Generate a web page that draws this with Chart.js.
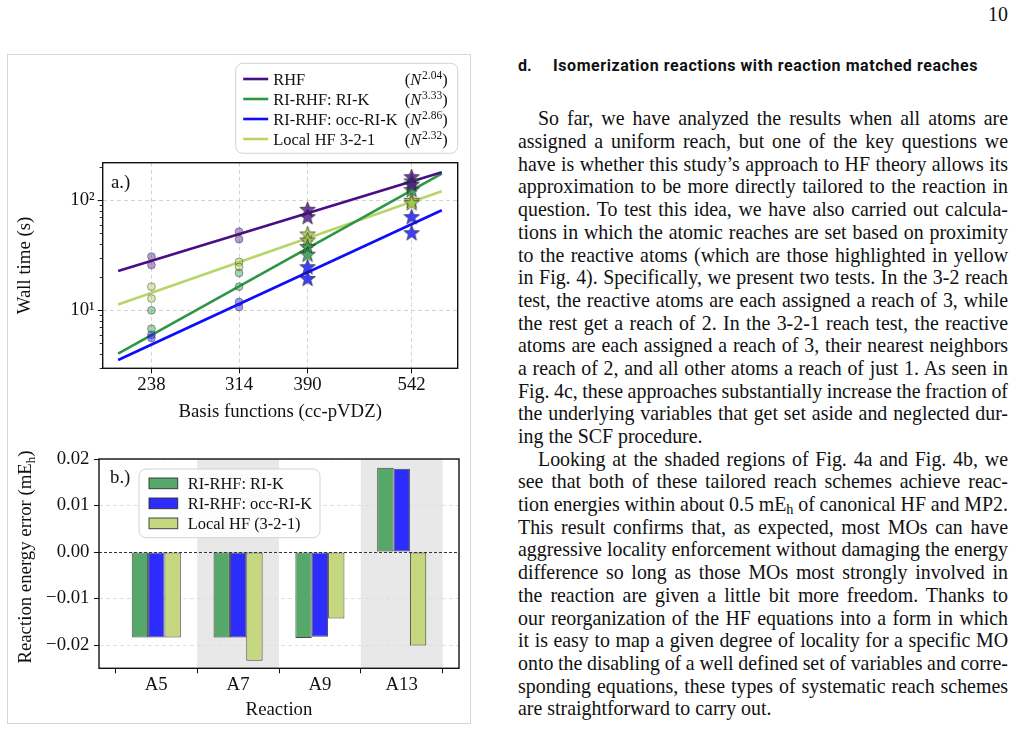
<!DOCTYPE html>
<html><head><meta charset="utf-8">
<script src="https://cdn.jsdelivr.net/npm/chart.js@4.4.0/dist/chart.umd.min.js"></script>
<style>
html,body{margin:0;padding:0;background:#fff;}
#page{position:relative;width:1016px;height:730px;overflow:hidden;font-family:'Liberation Serif','Times New Roman',serif;color:#111;}
#frame{position:absolute;left:7px;top:54px;width:462px;height:668px;border:1px solid #d6d6d6;}
canvas{position:absolute;}
#pn{position:absolute;left:908px;width:100px;text-align:right;top:3px;font-size:19.9px;line-height:22.4px;}
#hd{position:absolute;left:518px;top:56px;font-family:Roboto,'Liberation Sans',sans-serif;font-weight:bold;font-size:16px;line-height:20px;white-space:nowrap;}
#hd .t{position:absolute;left:35px;top:0;}
#txt{position:absolute;left:518px;top:107.4px;width:490px;font-size:19.9px;line-height:22.7px;}
.l{height:22.7px;white-space:nowrap;}
.i{text-indent:20px;}
sub{font-size:0.72em;vertical-align:-0.22em;line-height:0;}
</style>
</head>
<body>
<div id="page">
  <div id="frame"></div>
  <canvas id="c1" width="461" height="372" style="left:8px;top:55px;"></canvas>
  <canvas id="c2" width="461" height="292" style="left:8px;top:430px;"></canvas>
  <div id="pn">10</div>
  <div id="hd"><span>d.</span><span class="t" id="hdt">Isomerization reactions with reaction matched reaches</span></div>
  <div id="txt">
    <div class="l i">So far, we have analyzed the results when all atoms are</div>
    <div class="l">assigned a uniform reach, but one of the key questions we</div>
    <div class="l">have is whether this study’s approach to HF theory allows its</div>
    <div class="l">approximation to be more directly tailored to the reaction in</div>
    <div class="l">question. To test this idea, we have also carried out calcula-</div>
    <div class="l">tions in which the atomic reaches are set based on proximity</div>
    <div class="l">to the reactive atoms (which are those highlighted in yellow</div>
    <div class="l">in Fig. 4). Specifically, we present two tests. In the 3-2 reach</div>
    <div class="l">test, the reactive atoms are each assigned a reach of 3, while</div>
    <div class="l">the rest get a reach of 2. In the 3-2-1 reach test, the reactive</div>
    <div class="l">atoms are each assigned a reach of 3, their nearest neighbors</div>
    <div class="l">a reach of 2, and all other atoms a reach of just 1. As seen in</div>
    <div class="l">Fig. 4c, these approaches substantially increase the fraction of</div>
    <div class="l">the underlying variables that get set aside and neglected dur-</div>
    <div class="l e">ing the SCF procedure.</div>
    <div class="l i">Looking at the shaded regions of Fig. 4a and Fig. 4b, we</div>
    <div class="l">see that both of these tailored reach schemes achieve reac-</div>
    <div class="l">tion energies within about 0.5 mE<sub>h</sub> of canonical HF and MP2.</div>
    <div class="l">This result confirms that, as expected, most MOs can have</div>
    <div class="l">aggressive locality enforcement without damaging the energy</div>
    <div class="l">difference so long as those MOs most strongly involved in</div>
    <div class="l">the reaction are given a little bit more freedom. Thanks to</div>
    <div class="l">our reorganization of the HF equations into a form in which</div>
    <div class="l">it is easy to map a given degree of locality for a specific MO</div>
    <div class="l">onto the disabling of a well defined set of variables and corre-</div>
    <div class="l">sponding equations, these types of systematic reach schemes</div>
    <div class="l e">are straightforward to carry out.</div>
  </div>
</div>
<script>
// ---------------- DATA: panel a (wall time vs basis size) ----------------
const basisSizes = [238, 314, 390, 542];
const circleSizeCount = 2;               // first two sizes drawn as circles, rest as stars
const methodLabels = ['RHF', 'RI-RHF: RI-K', 'RI-RHF: occ-RI-K', 'Local HF 3-2-1'];
const scalingExponents = ['2.04', '3.33', '2.86', '2.32'];
// two molecules per basis size, wall time in seconds
const rhfTimes    = [[30.8, 25.8], [51.9, 44.3], [82.8, 71.0], [164, 140]];
const riKTimes    = [[10.0, 6.8], [21.8, 16.4], [38.0, 32.4], [150, 125]];
const occRiKTimes = [[6.0, 5.6], [11.9, 10.7], [24.9, 19.5], [71.0, 50.7]];
const localTimes  = [[16.4, 12.8], [27.5, 24.8], [49.4, 43.6], [100, 95]];
// fitted power-law lines, evaluated at the two ends of the fit range
const fitRange = [214.2, 596.2];
const rhfFit    = [22.8, 179.8];
const riKFit    = [4.04, 175];
const occRiKFit = [3.53, 81.1];
const localFit  = [11.3, 120.7];
const wallTicks = [10, 100];
const wallTickLabels = ['10¹', '10²'];
const wallMinorTicks = [3, 4, 5, 6, 7, 8, 9, 20, 30, 40, 50, 60, 70, 80, 90, 200];

// ---------------- DATA: panel b (reaction energy errors) ----------------
const reactions = ['A5', 'A7', 'A9', 'A13'];
const barLabels = ['RI-RHF: RI-K', 'RI-RHF: occ-RI-K', 'Local HF (3-2-1)'];
const riKErrors     = [-0.0184, -0.0184, -0.0185, 0.0181];
const occRiKErrors  = [-0.0184, -0.0184, -0.0182, 0.0179];
const local321Errors= [-0.0184, -0.0234, -0.0143, -0.0201];
const shadedReactions = ['A7', 'A13'];
const errorTicks = [-0.02, -0.01, 0, 0.01, 0.02];
const errorTickLabels = ['−0.02', '−0.01', '0.00', '0.01', '0.02'];

// ---------------- styling ----------------
const SERIF = "'Liberation Serif','Times New Roman',serif";
const FS = 18.8;     // axis font size
const LFS = 16.4;    // legend font size
const lineColors = ['rgb(72,14,136)', 'rgb(44,150,70)', 'rgb(12,12,255)', 'rgb(184,214,104)'];
const rgbs = [[80,20,145],[44,150,70],[20,20,255],[165,200,70]];
const rgba = (c, a) => `rgba(${c[0]},${c[1]},${c[2]},${a})`;
const barColors = ['rgb(86,168,106)', 'rgb(44,44,252)', 'rgb(197,216,128)'];

Chart.defaults.font.family = SERIF;
Chart.defaults.color = '#111';

function starCanvas(fill, stroke, R) {
  const pad = 2, s = Math.ceil(2 * R + 2 * pad);
  const c = document.createElement('canvas'); c.width = s; c.height = s;
  const g = c.getContext('2d');
  g.translate(s / 2, s / 2 + R * 0.08);
  g.beginPath();
  for (let k = 0; k < 10; k++) {
    const r = k % 2 ? R * 0.42 : R;
    const a = -Math.PI / 2 + k * Math.PI / 5;
    g.lineTo(r * Math.cos(a), r * Math.sin(a));
  }
  g.closePath(); g.fillStyle = fill; g.fill();
  g.lineWidth = 0.8; g.strokeStyle = stroke; g.stroke();
  return c;
}

const frameBox = {
  id: 'frameBox',
  afterDraw(chart) {
    const {ctx, chartArea: a} = chart;
    ctx.save(); ctx.strokeStyle = '#111'; ctx.lineWidth = 1.4;
    ctx.strokeRect(a.left, a.top, a.right - a.left, a.bottom - a.top);
    ctx.restore();
  }
};

// ---------------- panel a ----------------
const timeSeries = [rhfTimes, riKTimes, occRiKTimes, localTimes];
const fitSeries = [rhfFit, riKFit, occRiKFit, localFit];
const dsA = [];
fitSeries.forEach((f, m) => {
  dsA.push({type: 'line', label: methodLabels[m], data: fitRange.map((x, i) => ({x, y: f[i]})),
    showLine: true, borderColor: lineColors[m], borderWidth: 2.6, pointRadius: 0, order: 2, isFit: true});
});
timeSeries.forEach((t, m) => {
  const circ = [], stars = [];
  basisSizes.forEach((n, i) => t[i].forEach(v => (i < circleSizeCount ? circ : stars).push({x: n, y: v})));
  dsA.push({type: 'scatter', label: methodLabels[m] + ' pts', data: circ, pointStyle: 'circle', pointRadius: 3.9,
    backgroundColor: rgba(rgbs[m], 0.42), borderColor: 'rgba(50,50,50,0.45)', borderWidth: 1, order: 1});
  dsA.push({type: 'scatter', label: methodLabels[m] + ' stars', data: stars,
    pointStyle: starCanvas(rgba(rgbs[m], 0.82), 'rgba(30,30,30,0.75)', 8.2), pointRadius: 7, order: 0});
});

const legendA = {
  id: 'legendA',
  afterDraw(chart) {
    const {ctx, chartArea: a} = chart;
    const W = 222, H = 90, right = a.right, left = right - W, top = 8.3;
    ctx.save();
    ctx.beginPath(); ctx.roundRect(left, top, W, H, 7);
    ctx.fillStyle = 'rgba(255,255,255,0.85)'; ctx.fill();
    ctx.strokeStyle = '#d2d2d2'; ctx.lineWidth = 1; ctx.stroke();
    const fits = chart.data.datasets.filter(d => d.isFit);
    fits.forEach((d, i) => {
      const y = top + 15.7 + i * 20;
      ctx.strokeStyle = d.borderColor; ctx.lineWidth = 2.6;
      ctx.beginPath(); ctx.moveTo(left + 7.5, y); ctx.lineTo(left + 32.5, y); ctx.stroke();
      ctx.fillStyle = '#111'; ctx.textBaseline = 'alphabetic'; ctx.textAlign = 'left';
      ctx.font = `${LFS}px ${SERIF}`;
      ctx.fillText(d.label, left + 37.6, y + 5.6);
      // exponent label (N^p)
      const exp = scalingExponents[i];
      const f1 = `${LFS}px ${SERIF}`, fI = `italic ${LFS}px ${SERIF}`, fS = `11.5px ${SERIF}`;
      ctx.font = f1; const wo = ctx.measureText('(').width, wc = ctx.measureText(')').width;
      ctx.font = fI; const wn = ctx.measureText('N').width;
      ctx.font = fS; const we = ctx.measureText(exp).width;
      let x = right - 10 - (wo + wn + we + wc + 1);
      ctx.font = f1; ctx.fillText('(', x, y + 5.6); x += wo;
      ctx.font = fI; ctx.fillText('N', x, y + 5.6); x += wn + 1;
      ctx.font = fS; ctx.fillText(exp, x, y - 0.5); x += we;
      ctx.font = f1; ctx.fillText(')', x, y + 5.6);
    });
    ctx.font = `${FS}px ${SERIF}`; ctx.fillStyle = '#111';
    ctx.fillText('a.)', a.left + 8.3, a.top + 25.5);
    // minor log ticks on the y axis
    const ys = chart.scales.y;
    ctx.strokeStyle = '#111'; ctx.lineWidth = 0.9;
    wallMinorTicks.forEach(v => {
      const py = Math.round(ys.getPixelForValue(v)) + 0.5;
      ctx.beginPath(); ctx.moveTo(a.left, py); ctx.lineTo(a.left - 3, py); ctx.stroke();
    });
    ctx.restore();
  }
};

new Chart(document.getElementById('c1'), {
  type: 'scatter',
  data: {datasets: dsA},
  options: {
    responsive: false, animation: false, events: [],
    layout: {padding: {left: 0, right: 11.3, top: 107.7, bottom: 0}},
    plugins: {legend: {display: false}, tooltip: {enabled: false}},
    scales: {
      x: {type: 'logarithmic', min: 204, max: 627,
        afterFit(s) { s.height = 58.7; },
        afterBuildTicks(s) { s.ticks = basisSizes.map(v => ({value: v})); },
        ticks: {callback: v => String(v), font: {size: FS}, color: '#111', padding: 0.7, maxRotation: 0, autoSkip: false},
        grid: {color: '#cfcfcf', lineWidth: 0.9, tickLength: 5, tickColor: '#111', tickWidth: 1},
        border: {display: false, dash: [4, 3]},
        title: {display: true, text: 'Basis functions (cc-pVDZ)', font: {size: FS}, color: '#111', padding: {top: 0, bottom: 4}}
      },
      y: {type: 'logarithmic', min: 2.97, max: 219.6,
        afterFit(s) { s.width = 94.7; },
        afterBuildTicks(s) { s.ticks = wallTicks.map(v => ({value: v})); },
        ticks: {callback: (v, i) => wallTickLabels[i], font: {size: FS}, color: '#111', padding: 3},
        grid: {color: '#cfcfcf', lineWidth: 0.9, tickLength: 5, tickColor: '#111', tickWidth: 1},
        border: {display: false, dash: [4, 3]},
        title: {display: true, text: 'Wall time (s)', font: {size: FS}, color: '#111', padding: {top: 5.7, bottom: 0}}
      }
    }
  },
  plugins: [frameBox, legendA]
});

// ---------------- panel b ----------------
const errSeries = [riKErrors, occRiKErrors, local321Errors];
const dsB = errSeries.map((e, s) => ({
  label: barLabels[s],
  data: e.map((v, i) => ({x: i, y: v})),
  backgroundColor: barColors[s], borderColor: 'rgba(40,40,40,0.85)', borderWidth: 1, borderSkipped: false,
  categoryPercentage: 0.6, barPercentage: 1.0
}));

const shading = {
  id: 'shading',
  beforeDraw(chart) {
    const {ctx, chartArea: a, scales: {x}} = chart;
    ctx.save(); ctx.fillStyle = '#e8e8e8';
    shadedReactions.forEach(r => {
      const i = reactions.indexOf(r);
      const x0 = x.getPixelForValue(i - 0.5), x1 = x.getPixelForValue(i + 0.5);
      ctx.fillRect(x0, a.top, x1 - x0, a.bottom - a.top);
    });
    ctx.restore();
  }
};
const decorB = {
  id: 'decorB',
  afterDatasetsDraw(chart) {
    const {ctx, chartArea: a, scales: {y}} = chart;
    const py = Math.round(y.getPixelForValue(0)) + 0.5;
    ctx.save(); ctx.strokeStyle = '#333'; ctx.lineWidth = 1; ctx.setLineDash([3, 2]);
    ctx.beginPath(); ctx.moveTo(a.left, py); ctx.lineTo(a.right, py); ctx.stroke();
    ctx.restore();
  },
  afterDraw(chart) {
    const {ctx, chartArea: a} = chart;
    ctx.save();
    // legend
    const left = a.left + 40, top = a.top + 10, W = 181, H = 68.7;
    ctx.beginPath(); ctx.roundRect(left, top, W, H, 7);
    ctx.fillStyle = 'rgba(255,255,255,0.85)'; ctx.fill();
    ctx.strokeStyle = '#d2d2d2'; ctx.lineWidth = 1; ctx.stroke();
    chart.data.datasets.forEach((d, i) => {
      const cy = top + 14.3 + i * 20;
      ctx.fillStyle = d.backgroundColor; ctx.fillRect(left + 10, cy - 5.3, 28.7, 10.7);
      ctx.strokeStyle = d.borderColor; ctx.lineWidth = 1; ctx.strokeRect(left + 10, cy - 5.3, 28.7, 10.7);
      ctx.fillStyle = '#111'; ctx.font = `${LFS}px ${SERIF}`; ctx.textBaseline = 'alphabetic';
      ctx.fillText(d.label, left + 48.7, cy + 5.6);
    });
    ctx.font = `${FS}px ${SERIF}`;
    ctx.fillText('b.)', a.left + 11, a.top + 24);
    // y-axis title with subscript
    const main = 'Reaction energy error (mE', sub = 'h', tail = ')';
    const fM = `${FS}px ${SERIF}`, fSub = `13px ${SERIF}`;
    ctx.font = fM; const w1 = ctx.measureText(main).width, w3 = ctx.measureText(tail).width;
    ctx.font = fSub; const w2 = ctx.measureText(sub).width;
    const tot = w1 + w2 + w3;
    ctx.translate(17, 127); ctx.rotate(-Math.PI / 2);
    let x = -tot / 2;
    ctx.font = fM; ctx.fillText(main, x, 6.3); x += w1;
    ctx.font = fSub; ctx.fillText(sub, x, 10); x += w2;
    ctx.font = fM; ctx.fillText(tail, x, 6.3);
    ctx.restore();
  }
};

new Chart(document.getElementById('c2'), {
  type: 'bar',
  data: {datasets: dsB},
  options: {
    responsive: false, animation: false, events: [],
    layout: {padding: {left: 0, right: 10, top: 29, bottom: 0}},
    plugins: {legend: {display: false}, tooltip: {enabled: false}},
    scales: {
      x: {type: 'linear', min: -0.7, max: 3.7, offset: false,
        afterFit(s) { s.height = 53.7; },
        afterBuildTicks(s) { s.ticks = reactions.map((r, i) => ({value: i})); },
        ticks: {callback: (v) => reactions[v], font: {size: FS}, color: '#111', padding: 0.7, maxRotation: 0, autoSkip: false},
        grid: {drawOnChartArea: false, tickLength: 5, tickColor: '#111', tickWidth: 1, color: '#111'},
        border: {display: false},
        title: {display: true, text: 'Reaction', font: {size: FS}, color: '#111', padding: {top: 0, bottom: 0.7}}
      },
      y: {type: 'linear', min: -0.025, max: 0.02,
        afterFit(s) { s.width = 91; },
        afterBuildTicks(s) { s.ticks = errorTicks.map(v => ({value: v})); },
        ticks: {callback: (v, i) => errorTickLabels[i], font: {size: FS}, color: '#111', padding: 4.5},
        grid: {color: c => (c.tick && Math.abs(c.tick.value) < 1e-9) ? 'rgba(0,0,0,0)' : '#dcdcdc', lineWidth: 0.9,
               tickLength: 5, tickColor: '#111', tickWidth: 1},
        border: {display: false, dash: [4, 3]}
      }
    }
  },
  plugins: [shading, decorB, frameBox]
});

// heading width fit
(function () {
  const t = document.getElementById('hdt');
  const w = t.getBoundingClientRect().width, target = 425;
  t.style.letterSpacing = ((target - w) / t.textContent.length) + 'px';
})();
// manual justification of the text column (line breaks as in the reference)
(function () {
  const W = 490;
  document.querySelectorAll('#txt .l').forEach(div => {
    const span = document.createElement('span');
    while (div.firstChild) span.appendChild(div.firstChild);
    div.appendChild(span);
    const indent = div.classList.contains('i') ? 20 : 0;
    const w = span.getBoundingClientRect().width;
    const n = (span.textContent.match(/ /g) || []).length;
    if (!div.classList.contains('e') && n > 0) span.style.wordSpacing = ((W - indent - w) / n) + 'px';
  });
})();
</script>
</body></html>
